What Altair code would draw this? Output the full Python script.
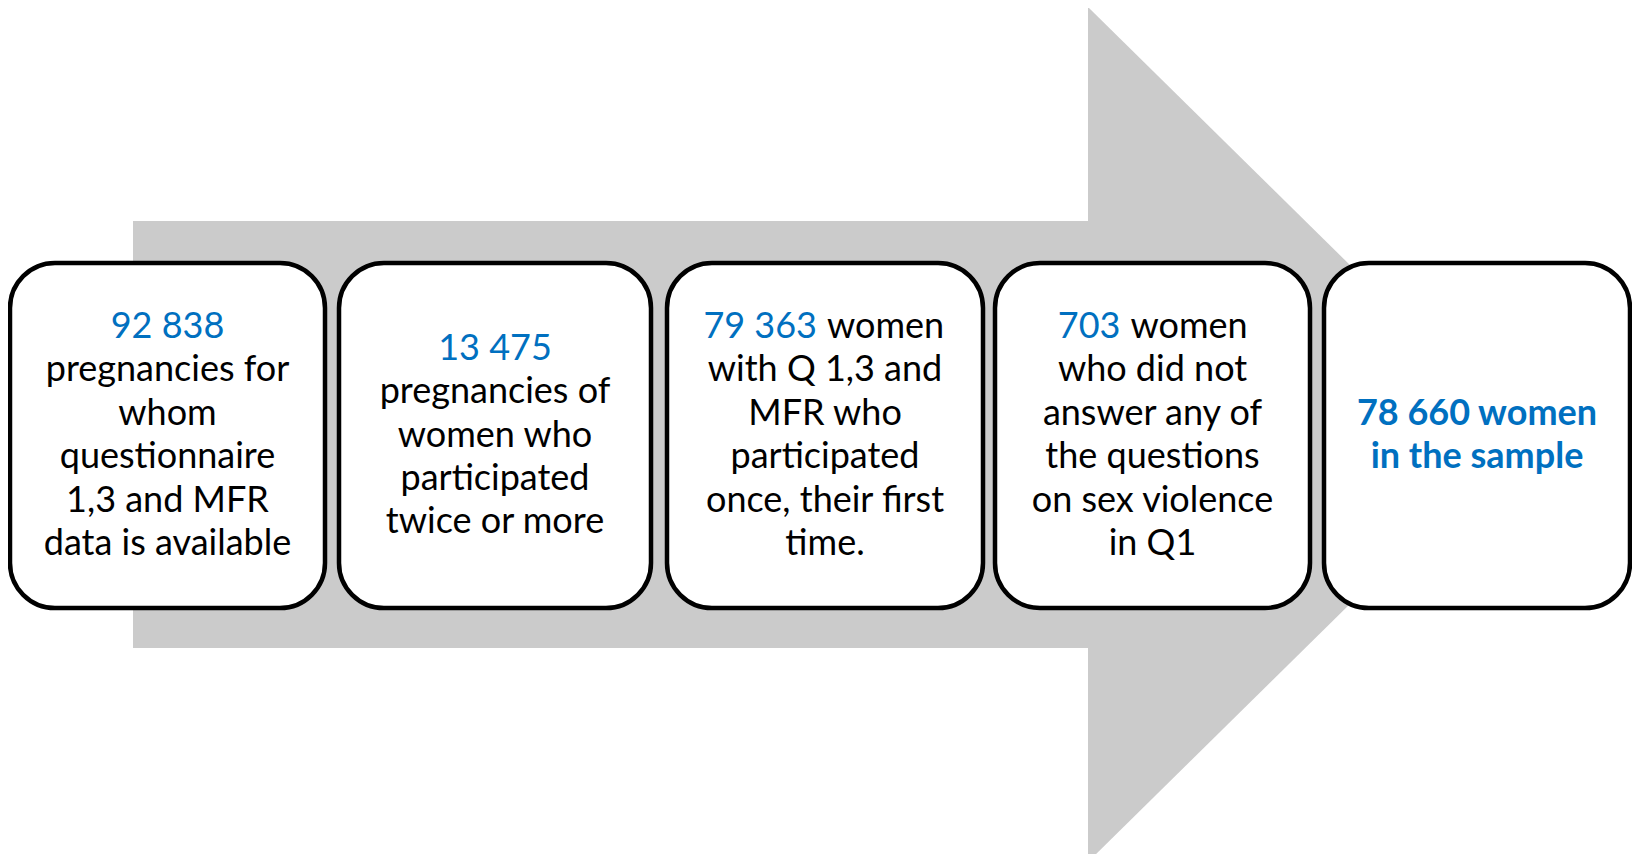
import altair as alt
import pandas as pd

# ---- arrow (page pixel coordinates of the reference) ----
shaft_left, shaft_right = 133, 1088
shaft_top, shaft_bottom = 221, 648
head_x = [1088, 1522]
head_top = [7, 434.5]
head_bottom = [862, 434.5]

# ---- boxes ----
box_left = [10, 339, 667, 995, 1324]
box_right = [325, 651, 983, 1310, 1630]
box_top = 263
box_bottom = 608

# ---- texts ----
BLUE = "#0070C0"
BLACK = "#000000"
box_lines = [
    ["92 838", "pregnancies for", "whom", "questionnaire", "1,3 and MFR", "data is available"],
    ["13 475", "pregnancies of", "women who", "participated", "twice or more"],
    ["79 363|women", "with Q 1,3 and", "MFR who", "participated", "once, their first", "time."],
    ["703|women", "who  did not", "answer any of", "the questions", "on sex violence", "in Q1"],
    ["78 660 women", "in the sample"],
]
split_offset = [0, 0, -8, -32, 0]   # where the blue number ends, relative to box centre
first_baseline = 338
line_step = 43.4
font = "Lato"
fsize = 36
GREY = "#CBCBCB"

# ---- build tables ----
shaft_df = pd.DataFrame({"x": [shaft_left], "x2": [shaft_right],
                         "y": [shaft_top], "y2": [shaft_bottom]})
head_df = pd.DataFrame({"x": head_x, "y": head_top, "y2": head_bottom})
box_df = pd.DataFrame({"x": box_left, "x2": box_right,
                       "y": [box_top] * 5, "y2": [box_bottom] * 5})

centre_rows, left_rows, right_rows, bold_rows = [], [], [], []
for b, lines in enumerate(box_lines):
    cx = (box_left[b] + box_right[b]) / 2
    n = len(lines)
    for i, ln in enumerate(lines):
        y = first_baseline + (6 - n) / 2 * line_step + i * line_step
        if b == 4:
            bold_rows.append({"x": cx, "y": y, "t": ln, "c": BLUE})
        elif "|" in ln:
            a, c = ln.split("|")
            sx = cx + split_offset[b]
            right_rows.append({"x": sx, "y": y, "t": a, "c": BLUE})
            left_rows.append({"x": sx + 10, "y": y, "t": c, "c": BLACK})
        else:
            centre_rows.append({"x": cx, "y": y, "t": ln, "c": BLUE if i == 0 else BLACK})

xs = alt.Scale(domain=[8, 1632], nice=False, zero=False)
ys = alt.Scale(domain=[8, 854], nice=False, zero=False, reverse=True)

X = lambda f="x": alt.X(f"{f}:Q", scale=xs, axis=None)
Y = lambda f="y": alt.Y(f"{f}:Q", scale=ys, axis=None)

shaft = alt.Chart(shaft_df).mark_rect(color=GREY).encode(
    x=X(), x2="x2:Q", y=Y(), y2="y2:Q")

head = alt.Chart(head_df).mark_area(color=GREY, clip=True).encode(
    x=X(), y=Y(), y2=alt.Y2("y2"))

boxes = alt.Chart(box_df).mark_rect(fill="white", stroke="black", strokeWidth=4.5,
                                    cornerRadius=45).encode(
    x=X(), x2="x2:Q", y=Y(), y2="y2:Q")

def text_layer(rows, align, weight="normal"):
    return alt.Chart(pd.DataFrame(rows)).mark_text(
        align=align, baseline="alphabetic", font=font, fontSize=fsize, fontWeight=weight
    ).encode(x=X(), y=Y(), text="t:N", color=alt.Color("c:N", scale=None))

chart = alt.layer(
    shaft, head, boxes,
    text_layer(centre_rows, "center"),
    text_layer(right_rows, "right"),
    text_layer(left_rows, "left"),
    text_layer(bold_rows, "center", "bold"),
).properties(width=1624, height=846, padding=0, autosize="none"
).configure_view(strokeWidth=0)

chart.save("out.html", embed_options={"renderer": "svg", "actions": False})
